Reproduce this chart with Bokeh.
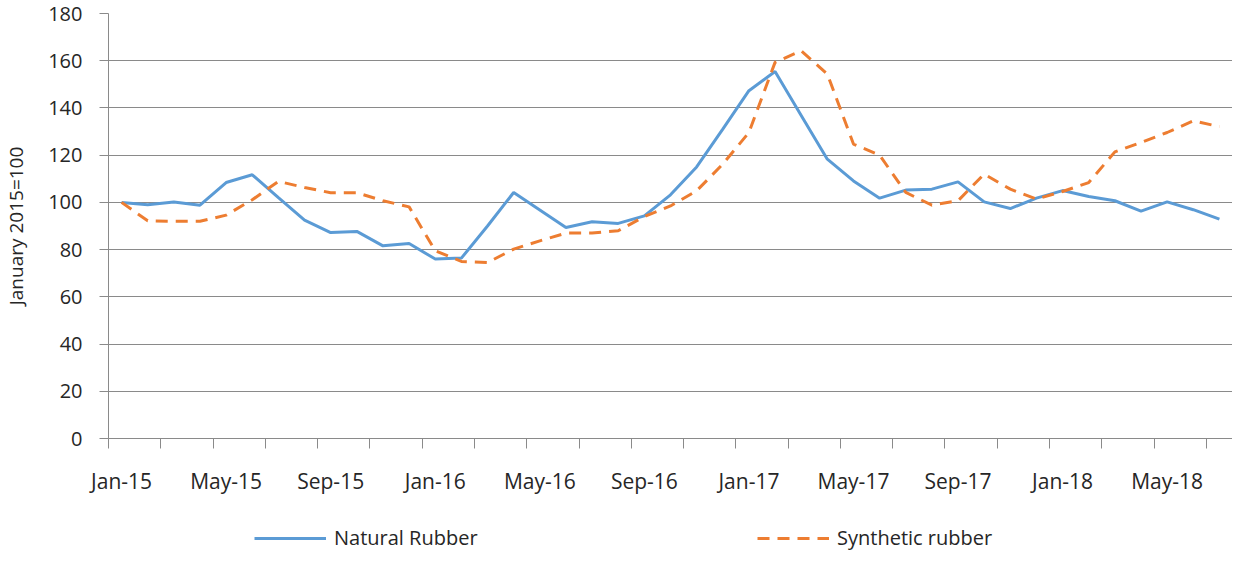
from bokeh.plotting import figure
from bokeh.layouts import column
from bokeh.models import Range1d, FixedTicker, Legend, LegendItem, ColumnDataSource
from bokeh.embed import file_html
from bokeh.resources import INLINE

# ---- data ----
months = ["Jan-15", "Feb-15", "Mar-15", "Apr-15", "May-15", "Jun-15", "Jul-15", "Aug-15",
          "Sep-15", "Oct-15", "Nov-15", "Dec-15", "Jan-16", "Feb-16", "Mar-16", "Apr-16",
          "May-16", "Jun-16", "Jul-16", "Aug-16", "Sep-16", "Oct-16", "Nov-16", "Dec-16",
          "Jan-17", "Feb-17", "Mar-17", "Apr-17", "May-17", "Jun-17", "Jul-17", "Aug-17",
          "Sep-17", "Oct-17", "Nov-17", "Dec-17", "Jan-18", "Feb-18", "Mar-18", "Apr-18",
          "May-18", "Jun-18", "Jul-18"]
natural = [100, 99, 100.2, 98.8, 108.4, 111.7, 102, 92.5, 87.2, 87.7, 81.6, 82.6, 76, 76.4,
           90, 104.2, 96.8, 89.4, 91.8, 91.1, 94.3, 103.2, 115, 131, 147.3, 155.4, 136.8,
           118.3, 109.1, 101.8, 105.2, 105.6, 108.7, 100.2, 97.4, 101.8, 105, 102.5, 100.7,
           96.3, 100.2, 96.9, 92.9]
synthetic = [100, 92.2, 92, 92, 94.6, 101.1, 108.9, 106.3, 104.1, 104.1, 100.7, 98.1, 79.5,
             75, 74.5, 80.2, 83.7, 87, 87, 88, 94, 98.5, 104.9, 116.2, 129.6, 159.3, 164.2,
             154.3, 124.7, 120, 104.2, 98.8, 100.7, 112, 105.6, 101.4, 104.6, 108.4, 121.4,
             125.4, 129.6, 134.5, 132.1]
y_ticks = [0, 20, 40, 60, 80, 100, 120, 140, 160, 180]
label_every = 4
series_names = ["Natural Rubber", "Synthetic rubber"]
y_title = "January 2015=100"

FONT = "Open Sans"
TXT = "#262626"
GRID = "#8a8a8a"
BLUE = "#5B9BD5"
ORANGE = "#ED7D31"
DASH = "12 8"

idx = list(range(len(months)))
src = ColumnDataSource(dict(x=idx, nat=natural, syn=synthetic, m=months))

p = figure(width=1232, height=500, output_backend="svg", toolbar_location=None,
           x_range=Range1d(-0.5, len(months) - 0.5), y_range=Range1d(0, 180),
           min_border_left=101, min_border_right=0, min_border_top=13, min_border_bottom=62)
p.outline_line_color = None
p.background_fill_color = "white"
p.border_fill_color = "white"

p.line("x", "nat", source=src, line_color=BLUE, line_width=3)
p.line("x", "syn", source=src, line_color=ORANGE, line_width=3, line_dash=DASH)

# x axis: labels at every 4th month, tick marks on category boundaries every 2 months
label_pos = idx[::label_every]
boundaries = [i - 0.5 for i in range(0, len(months), 2)]
xa = p.xaxis[0]
xa.ticker = FixedTicker(ticks=label_pos, minor_ticks=boundaries)
xa.major_label_overrides = {i: months[i] for i in label_pos}
xa.major_tick_out = 0
xa.major_tick_in = 0
xa.minor_tick_out = 10
xa.minor_tick_in = 0
xa.minor_tick_line_color = GRID
xa.axis_line_color = GRID
xa.major_label_standoff = 18
xa.major_label_text_font = FONT
xa.major_label_text_font_size = "21px"
xa.major_label_text_color = TXT

ya = p.yaxis[0]
ya.ticker = FixedTicker(ticks=y_ticks)
ya.major_tick_out = 9
ya.major_tick_in = 0
ya.minor_tick_line_color = None
ya.axis_line_color = GRID
ya.major_tick_line_color = GRID
ya.major_label_standoff = 17
ya.major_label_text_font = FONT
ya.major_label_text_font_size = "20px"
ya.major_label_text_color = TXT
ya.axis_label = y_title
ya.axis_label_text_font = FONT
ya.axis_label_text_font_size = "19px"
ya.axis_label_text_font_style = "normal"
ya.axis_label_text_color = TXT
ya.axis_label_standoff = 16

p.xgrid.visible = False
p.ygrid.ticker = FixedTicker(ticks=y_ticks)
p.ygrid.grid_line_color = GRID
p.ygrid.grid_line_width = 1

# legend strip below the chart (its series lie outside this strip's y range, so only
# the legend keys show)
lp = figure(width=1232, height=51, output_backend="svg", toolbar_location=None,
            x_range=Range1d(-0.5, len(months) - 0.5), y_range=Range1d(0, 1),
            x_axis_type=None, y_axis_type=None,
            min_border_left=0, min_border_right=0, min_border_top=0, min_border_bottom=0)
lp.outline_line_color = None
lp.grid.visible = False
lp.background_fill_color = "white"
lp.border_fill_color = "white"
k1 = lp.line("x", "nat", source=src, line_color=BLUE, line_width=3)
k2 = lp.line("x", "syn", source=src, line_color=ORANGE, line_width=3, line_dash=DASH)

lg = Legend(items=[LegendItem(label=series_names[0], renderers=[k1]),
                   LegendItem(label=series_names[1], renderers=[k2])],
            location=(146, 0), orientation="horizontal",
            glyph_width=72, glyph_height=16, label_height=16, label_width=160, spacing=263,
            label_standoff=8, padding=0, margin=0, border_line_color=None,
            background_fill_alpha=0, label_text_font=FONT,
            label_text_font_size="20px", label_text_color=TXT)
lp.add_layout(lg, "center")

open("out.html", "w").write(file_html(column(p, lp, spacing=0), INLINE))
